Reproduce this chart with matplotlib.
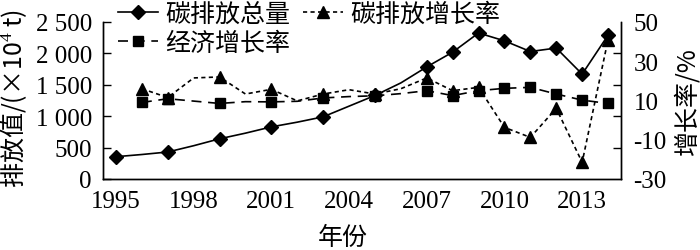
import numpy as np
import matplotlib
matplotlib.use("Agg")
import matplotlib.pyplot as plt
from matplotlib.ticker import FixedLocator, NullFormatter

plt.rcParams['font.family'] = ['Liberation Serif', 'Noto Sans CJK SC', 'DejaVu Sans']
plt.rcParams['mathtext.fontset'] = 'custom'
plt.rcParams['mathtext.rm'] = 'Liberation Serif'

years = list(range(1995, 2015))
emission_total = [355, 390, 430, 530, 640, 730, 830, 905, 990, 1160,
                  1330, 1530, 1785, 2020, 2325, 2200, 2030, 2085, 1670, 2290]
total_marked = [1995, 1997, 1999, 2001, 2003, 2005, 2007, 2008, 2009, 2010,
                2011, 2012, 2013, 2014]

rate_years = list(range(1996, 2015))
emission_rate = [16, 11.5, 21.5, 22, 13.3, 15.7, 9.8, 13.3, 15.5, 13.3,
                 16, 21.5, 15, 16.7, -3.7, -8.8, 6, -21.5, 41]
econ_rate = [9.0, 10.9, 9.7, 8.5, 9.4, 9.3, 9.6, 11.3, 12.0, 12.4,
             13.5, 15.0, 12.5, 15.0, 16.2, 16.7, 13.3, 10.2, 8.5]
rate_marked = [1996, 1997, 1999, 2001, 2003, 2005, 2007, 2008, 2009, 2010,
               2011, 2012, 2013, 2014]

xticks = [1995, 1998, 2001, 2004, 2007, 2010, 2013]
left_ticks = [0, 500, 1000, 1500, 2000, 2500]
left_labels = ['0', '500', '1 000', '1 500', '2 000', '2 500']
right_ticks = [50, 30, 10, -10, -30]

fig = plt.figure(figsize=(7, 2.51), dpi=100)
ax = fig.add_axes([103/700, 1-180/251, (621-103)/700, (180-23)/251])
ax2 = ax.twinx()

tot_idx = [years.index(y) for y in total_marked]
rate_idx = [rate_years.index(y) for y in rate_marked]

l1, = ax.plot(years, emission_total, color='black', lw=1.2, marker='D', ms=7,
              markevery=tot_idx, label='碳排放总量', zorder=3)
l2, = ax2.plot(rate_years, emission_rate, color='black', lw=1.2,
               linestyle=(0, (2.5, 2)), marker='^', ms=9, markevery=rate_idx,
               label='碳排放增长率')
l3, = ax2.plot(rate_years, econ_rate, color='black', lw=1.2,
               linestyle=(0, (6, 4)), marker='s', ms=7, markevery=rate_idx,
               label='经济增长率')

ax.set_xlim(1994.5, 2014.5)
ax.set_ylim(0, 2500)
ax2.set_ylim(-30, 50)

FS = 18
ax.set_xticks(xticks)
ax.set_xticklabels([str(x) for x in xticks], fontsize=FS)
ax.tick_params(axis='x', length=0, pad=8)
ax.set_yticks(left_ticks)
ax.set_yticklabels(left_labels, fontsize=FS)
ax.tick_params(axis='y', direction='in', length=6, width=1, pad=8)

ax2.yaxis.set_major_locator(FixedLocator(right_ticks))
ax2.set_yticklabels([str(v) for v in right_ticks], fontsize=FS)
ax2.yaxis.set_minor_locator(FixedLocator(list(np.linspace(-30, 50, 6))))
ax2.yaxis.set_minor_formatter(NullFormatter())
ax2.tick_params(axis='y', which='major', length=0, pad=9)
ax2.tick_params(axis='y', which='minor', direction='in', length=6, width=1)

for a in (ax, ax2):
    a.spines['top'].set_visible(False)
    for s in ('left', 'right', 'bottom'):
        a.spines[s].set_linewidth(1.0)

ax.set_xlabel('年份', fontsize=FS, family=['Noto Sans CJK SC'], va='center')
ax.xaxis.set_label_coords((343-103)/518, -(238-180)/157)
ax.set_ylabel('排放值/(×10$^4$ t)', fontsize=FS,
              family=['Noto Sans CJK SC', 'Liberation Serif'])
ax.yaxis.set_label_coords(-0.142, 0.52)
ax2.set_ylabel('增长率/%', fontsize=FS, family=['Noto Sans CJK SC', 'Liberation Serif'],
               rotation=90, va='top', ha='center')
ax2.yaxis.set_label_coords(1.104, 0.5)

leg = fig.legend(handles=[l1, l3, l2], ncol=2, loc='upper left',
                 bbox_to_anchor=(118/700, 0.995), frameon=False,
                 prop={'family': ['Noto Sans CJK SC'], 'size': FS},
                 handlelength=1.6, handletextpad=0.3, columnspacing=0.5,
                 labelspacing=0.15, borderpad=0.0, borderaxespad=0.0)

fig.savefig('out.png', dpi=100)
